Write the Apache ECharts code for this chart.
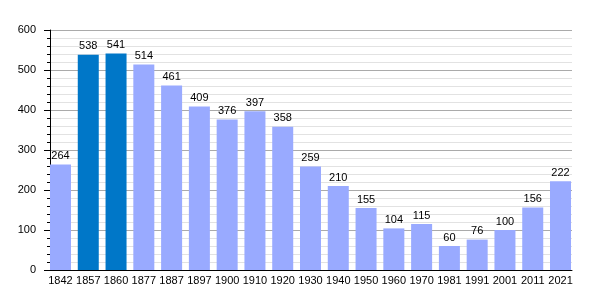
<!DOCTYPE html>
<html>
<head>
<meta charset="utf-8">
<script src="https://cdn.jsdelivr.net/npm/echarts@6/dist/echarts.min.js"></script>
<style>html,body{margin:0;padding:0;background:#fff}#c{width:600px;height:300px}</style>
</head>
<body>
<div id="c"></div>
<script>
const categories = ['1842','1857','1860','1877','1887','1897','1900','1910','1920','1930','1940','1950','1960','1970','1981','1991','2001','2011','2021'];
const values = [264,538,541,514,461,409,376,397,358,259,210,155,104,115,60,76,100,156,222];
const highlighted = ['1857','1860'];
const yTicks = [0,100,200,300,400,500,600];

const font = 'Liberation Sans, Arial, sans-serif';
const chart = echarts.init(document.getElementById('c'), null, {renderer:'canvas'});
chart.setOption({
  animation:false,
  grid:[
    {left:50,right:28,top:30,bottom:30,containLabel:false},
    {left:46.6,right:25.6,top:30,bottom:30,containLabel:false}
  ],
  xAxis:[{
    gridIndex:0,
    type:'category',
    data:categories,
    axisLine:{lineStyle:{color:'#000',width:1}},
    axisTick:{show:false},
    axisLabel:{show:false}
  },{
    gridIndex:1,
    type:'category',
    data:categories,
    axisLine:{show:false},
    axisTick:{show:false},
    axisLabel:{color:'#000',fontSize:11,fontFamily:font,margin:5,interval:0}
  }],
  yAxis:[{
    gridIndex:0,
    type:'value',
    min:yTicks[0],max:yTicks[yTicks.length-1],interval:100,
    axisLine:{show:true,lineStyle:{color:'#000',width:1}},
    axisTick:{show:true,length:6,lineStyle:{color:'#000'}},
    minorTick:{show:true,splitNumber:5,length:3,lineStyle:{color:'#000'}},
    splitLine:{show:true,lineStyle:{color:'#aaaaaa',width:1}},
    minorSplitLine:{show:true,lineStyle:{color:'#e2e2e2',width:1}},
    axisLabel:{color:'#000',fontSize:11,fontFamily:font,margin:14}
  },{
    gridIndex:1,
    type:'value',
    min:yTicks[0],max:yTicks[yTicks.length-1],interval:100,
    show:false
  }],
  series:[{
    type:'bar',
    xAxisIndex:1,yAxisIndex:1,
    data:values.map((v,i)=>({value:v,itemStyle:{color:highlighted.includes(categories[i])?'#0077c8':'#99aaff'}})),
    barCategoryGap:'24.4%',
    label:{show:true,position:'top',distance:3,color:'#000',fontSize:11,fontFamily:font}
  }]
});
</script>
</body>
</html>
